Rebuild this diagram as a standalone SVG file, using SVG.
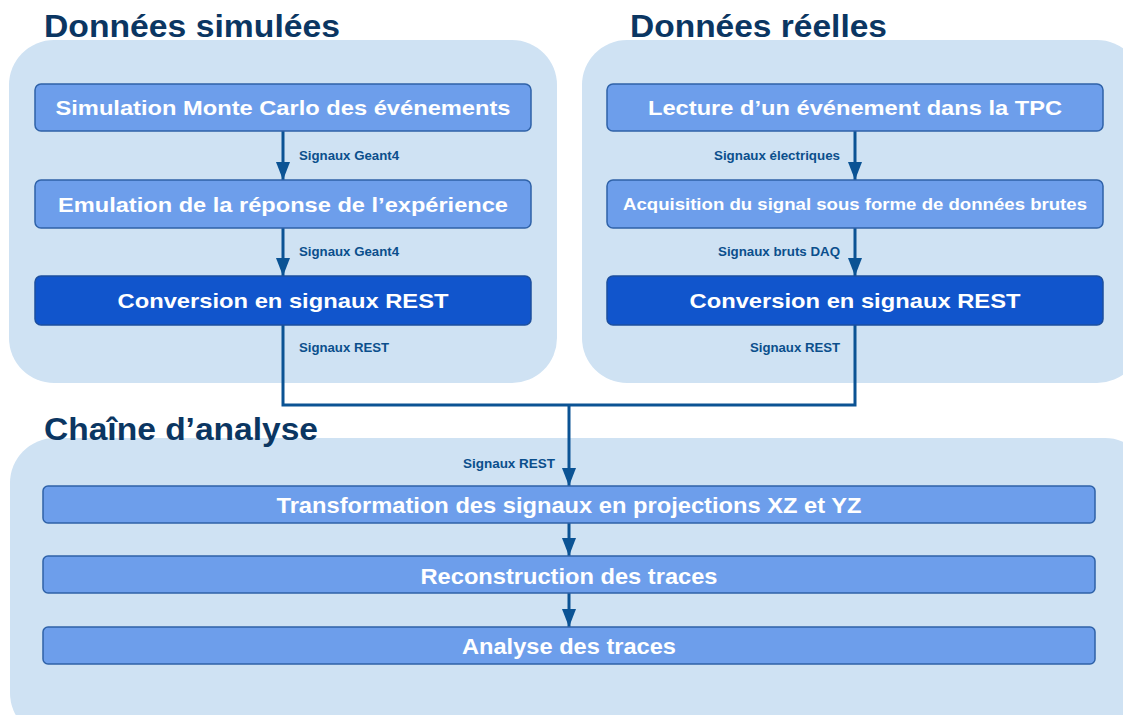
<svg xmlns="http://www.w3.org/2000/svg" width="1123" height="715" viewBox="0 0 1123 715">
<defs>
<style>
.panel{fill:#cfe2f3;}
.title{font-family:"Liberation Sans",Arial,sans-serif;font-weight:bold;font-size:31px;fill:#0b3662;}
.box{fill:#6d9eeb;stroke:#2f62a8;stroke-width:1.5;}
.dark{fill:#1155cc;stroke:#1d4f9e;stroke-width:1.5;}
.bt{font-family:"Liberation Sans",Arial,sans-serif;font-weight:bold;fill:#ffffff;text-anchor:middle;}
.lbl{font-family:"Liberation Sans",Arial,sans-serif;font-weight:bold;font-size:12px;fill:#0b4f8c;}
.conn{fill:none;stroke:#0b5394;stroke-width:3;}
</style>
<marker id="ah" markerWidth="18" markerHeight="14" refX="18" refY="7" orient="auto" markerUnits="userSpaceOnUse" viewBox="0 0 18 14">
<path d="M0,0 L18,7 L0,14 Z" fill="#0b5394"/>
</marker>
</defs>

<g id="panel-simulees">
<rect class="panel" x="9" y="40" width="548" height="343" rx="45"/>
<text class="title" x="44" y="37" textLength="296" lengthAdjust="spacingAndGlyphs">Données simulées</text>
</g>
<g id="panel-reelles">
<rect class="panel" x="582" y="40" width="560" height="343" rx="45"/>
<text class="title" x="630" y="37" textLength="257" lengthAdjust="spacingAndGlyphs">Données réelles</text>
</g>
<g id="panel-analyse">
<rect class="panel" x="10" y="438" width="1140" height="300" rx="45"/>
<text class="title" x="44" y="440" textLength="274" lengthAdjust="spacingAndGlyphs">Chaîne d’analyse</text>
</g>

<g id="connectors">
<line class="conn" x1="283" y1="131" x2="283" y2="180" marker-end="url(#ah)"/>
<line class="conn" x1="283" y1="228" x2="283" y2="276" marker-end="url(#ah)"/>
<line class="conn" x1="855" y1="131" x2="855" y2="180" marker-end="url(#ah)"/>
<line class="conn" x1="855" y1="228" x2="855" y2="276" marker-end="url(#ah)"/>
<polyline class="conn" points="283,325 283,405 855,405 855,325"/>
<line class="conn" x1="569" y1="405" x2="569" y2="486" marker-end="url(#ah)"/>
<line class="conn" x1="569" y1="523" x2="569" y2="556" marker-end="url(#ah)"/>
<line class="conn" x1="569" y1="593" x2="569" y2="627" marker-end="url(#ah)"/>
<text class="lbl" x="299" y="160" textLength="100" lengthAdjust="spacingAndGlyphs">Signaux Geant4</text>
<text class="lbl" x="299" y="256" textLength="100" lengthAdjust="spacingAndGlyphs">Signaux Geant4</text>
<text class="lbl" x="299" y="352" textLength="90" lengthAdjust="spacingAndGlyphs">Signaux REST</text>
<text class="lbl" x="714" y="160" textLength="126" lengthAdjust="spacingAndGlyphs">Signaux électriques</text>
<text class="lbl" x="718" y="256" textLength="122" lengthAdjust="spacingAndGlyphs">Signaux bruts DAQ</text>
<text class="lbl" x="750" y="352" textLength="90" lengthAdjust="spacingAndGlyphs">Signaux REST</text>
<text class="lbl" x="463" y="468" textLength="92" lengthAdjust="spacingAndGlyphs">Signaux REST</text>
</g>

<g id="n-sim-mc">
<rect class="box" x="35" y="84" width="496" height="47" rx="6"/>
<text class="bt" x="283" y="115" font-size="21" textLength="455" lengthAdjust="spacingAndGlyphs">Simulation Monte Carlo des événements</text>
</g>
<g id="n-emulation">
<rect class="box" x="35" y="180" width="496" height="48" rx="6"/>
<text class="bt" x="283" y="212" font-size="21" textLength="450" lengthAdjust="spacingAndGlyphs">Emulation de la réponse de l’expérience</text>
</g>
<g id="n-conv-sim">
<rect class="dark" x="35" y="276" width="496" height="49" rx="6"/>
<text class="bt" x="283" y="308" font-size="21" textLength="331" lengthAdjust="spacingAndGlyphs">Conversion en signaux REST</text>
</g>
<g id="n-lecture">
<rect class="box" x="607" y="84" width="496" height="47" rx="6"/>
<text class="bt" x="855" y="115" font-size="21" textLength="414" lengthAdjust="spacingAndGlyphs">Lecture d’un événement dans la TPC</text>
</g>
<g id="n-acquisition">
<rect class="box" x="607" y="180" width="496" height="48" rx="6"/>
<text class="bt" x="855" y="210" font-size="17" textLength="464" lengthAdjust="spacingAndGlyphs">Acquisition du signal sous forme de données brutes</text>
</g>
<g id="n-conv-reel">
<rect class="dark" x="607" y="276" width="496" height="49" rx="6"/>
<text class="bt" x="855" y="308" font-size="21" textLength="331" lengthAdjust="spacingAndGlyphs">Conversion en signaux REST</text>
</g>
<g id="n-transformation">
<rect class="box" x="43" y="486" width="1052" height="37" rx="5"/>
<text class="bt" x="569" y="513" font-size="22" textLength="585" lengthAdjust="spacingAndGlyphs">Transformation des signaux en projections XZ et YZ</text>
</g>
<g id="n-reconstruction">
<rect class="box" x="43" y="556" width="1052" height="37" rx="5"/>
<text class="bt" x="569" y="584" font-size="22" textLength="297" lengthAdjust="spacingAndGlyphs">Reconstruction des traces</text>
</g>
<g id="n-analyse">
<rect class="box" x="43" y="627" width="1052" height="37" rx="5"/>
<text class="bt" x="569" y="654" font-size="22" textLength="214" lengthAdjust="spacingAndGlyphs">Analyse des traces</text>
</g>
</svg>
